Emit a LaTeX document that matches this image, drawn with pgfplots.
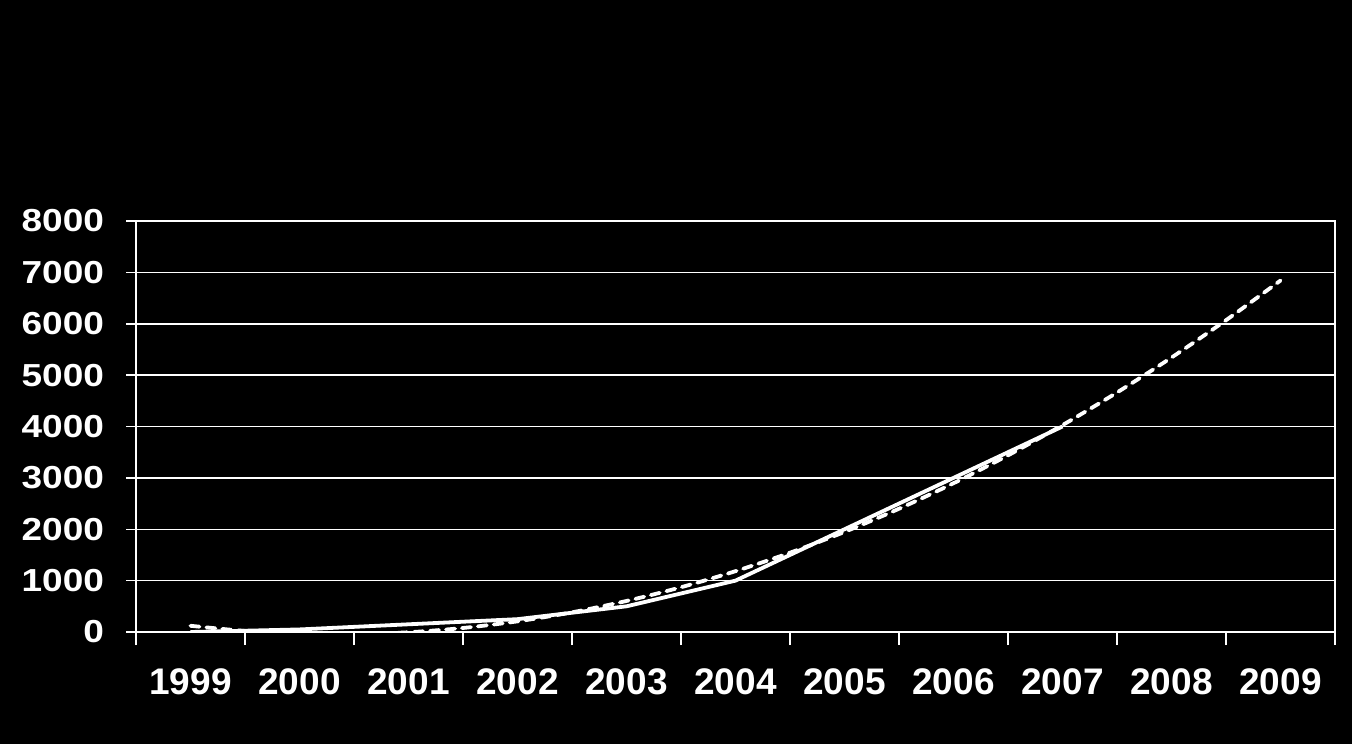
\documentclass[border=0pt]{standalone}
\usepackage{pgfplots}
\pgfplotsset{compat=1.18}
\usepackage{fontspec}
\setmainfont{Liberation Sans}
\usepackage{graphicx}
\begin{document}
\begin{tikzpicture}
\fill[black] (-68pt,-56pt) rectangle (608pt,316pt);
\useasboundingbox (-68pt,-56pt) rectangle (608pt,316pt);
\begin{axis}[
  at={(0,0)}, anchor=south west,
  scale only axis, width=599.5pt, height=205.5pt,
  xmin=-0.5, xmax=10.5, ymin=0, ymax=8000,
  axis line style={white, line width=0.75pt},
  xtick={0,...,10},
  xticklabels={1999,2000,2001,2002,2003,2004,2005,2006,2007,2008,2009},
  minor xtick={-0.5,0.5,...,10.5},
  major x tick style={draw=none},
  minor x tick style={white, line width=0.75pt},
  minor tick length=6.5pt,
  ytick={0,1000,...,8000},
  major y tick style={white, line width=0.75pt},
  major tick length=5pt,
  tick align=outside,
  tick pos=left,
  ymajorgrids,
  grid style={white, line width=0.75pt},
  scaled y ticks=false,
  /pgf/number format/assume math mode=true,
  yticklabel={\scalebox{1}[0.86]{\pgfmathprintnumber[set thousands separator={}]{\tick}}},
  xticklabel style={font=\fontsize{18.5}{20}\selectfont\bfseries, text=white, yshift=-10pt},
  yticklabel style={font=\fontsize{18.5}{20}\selectfont\bfseries, text=white, xshift=-7.5pt},
]
\addplot[white, line width=1.9pt, line join=round] coordinates {
 (0,0) (1,50) (2,150) (3,250) (4,500) (5,1000) (6,2000) (7,3000) (8,4000)
};
\addplot[white, line width=1.9pt, smooth, line cap=round, dash pattern=on 4.5pt off 3.5pt] coordinates {
 (0,120.9) (0.5,20.5) (1,-33.9) (1.5,-42.4) (2,-5.1) (2.5,78.3) (3,207.7) (3.5,382.9)
 (4,604.1) (4.5,871.3) (5,1184.3) (5.5,1543.3) (6,1948.3) (6.5,2399.2) (7,2895.9)
 (7.5,3438.7) (8,4027.5) (8.5,4662.1) (9,5342.7) (9.5,6069.2) (10,6841.8)
};
\end{axis}
\end{tikzpicture}
\end{document}
